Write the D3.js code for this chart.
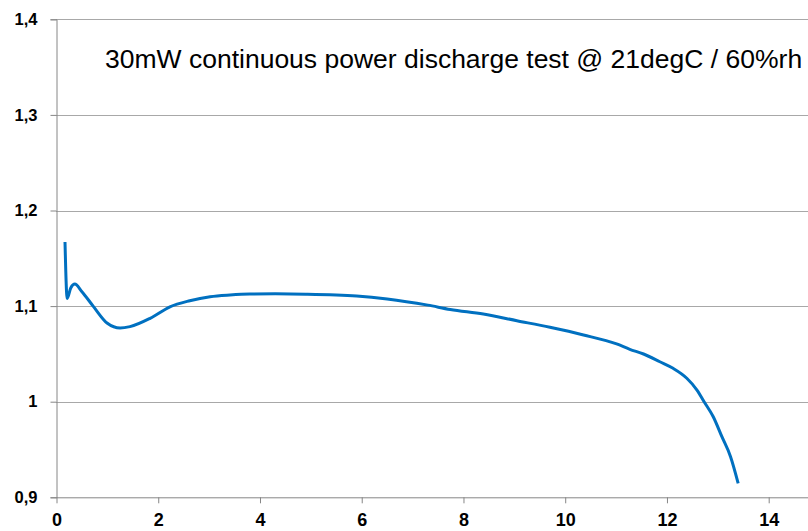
<!DOCTYPE html>
<html>
<head>
<meta charset="utf-8">
<script src="https://cdn.jsdelivr.net/npm/d3@7"></script>
<style>
  html, body { margin: 0; padding: 0; background: #fff; }
  svg { display: block; }
</style>
</head>
<body>
<svg id="chart" width="808" height="531"></svg>
<script>
//
// Data
//
const hours = [0.167, 0.21, 0.28, 0.36, 0.5, 0.72, 1.0, 1.25, 1.445, 1.84, 2.23, 2.62, 3.02, 3.41, 3.8,
  4.3, 4.9, 5.9, 6.5, 7.3, 7.74, 8.39, 9.05, 9.7, 10.36, 11.01, 11.27, 11.54, 11.86,
  12.12, 12.39, 12.59, 12.73, 12.91, 13.08, 13.25, 13.40];
const volts = [1.167, 1.108, 1.119, 1.123, 1.115, 1.100, 1.082, 1.077, 1.0785, 1.0872, 1.0993, 1.1056, 1.1098, 1.1116, 1.1126,
  1.1128, 1.1125, 1.1106, 1.1075, 1.101, 1.0965, 1.0917, 1.0847, 1.0778, 1.0698, 1.0604, 1.0548, 1.0499, 1.0418,
  1.0349, 1.0245, 1.0122, 1.000, 0.9843, 0.9634, 0.9425, 0.9146];
const xTicks = [0, 2, 4, 6, 8, 10, 12, 14];
const yTicks = [0.9, 1.0, 1.1, 1.2, 1.3, 1.4];
const title = '30mW continuous power discharge test @ 21degC / 60%rh';

//
// Layout
//
const svg = d3.select('#chart');
const plotLeft = 56.5, plotTop = 19.3, plotBottom = 497.3;
const axisColor = '#868686';
const labelFont = '"Liberation Sans", Arial, sans-serif';

const x = d3.scaleLinear().domain([0, 14]).range([plotLeft, 768.7]);
const y = d3.scaleLinear().domain([0.9, 1.4]).range([plotBottom, plotTop]);

const fmt = v => d3.format('.1~f')(v).replace('.', ',');

// grid lines
svg.append('g')
  .selectAll('line')
  .data(yTicks.filter(v => v > 0.9))
  .join('line')
    .attr('x1', plotLeft).attr('x2', 808)
    .attr('y1', d => Math.round(y(d)) + 0.5).attr('y2', d => Math.round(y(d)) + 0.5)
    .attr('stroke', '#505050')
    .attr('stroke-width', 1)
    .attr('stroke-dasharray', '1,1');

// y axis
const yAxis = svg.append('g')
  .attr('transform', `translate(${plotLeft},0)`)
  .call(d3.axisLeft(y).tickValues(yTicks).tickFormat(fmt).tickSize(6).tickPadding(13));
yAxis.select('.domain').attr('stroke', axisColor);
yAxis.selectAll('.tick line').attr('stroke', axisColor);
yAxis.selectAll('.tick text')
  .attr('fill', '#000')
  .attr('font-family', labelFont)
  .attr('font-weight', 'bold')
  .attr('font-size', 16.5);

// x axis
const xAxis = svg.append('g')
  .attr('transform', `translate(0,${plotBottom})`)
  .call(d3.axisBottom(x).tickValues(xTicks).tickFormat(d3.format('d')).tickSize(6).tickSizeOuter(0).tickPadding(10));
xAxis.select('.domain').attr('d', `M${plotLeft},0.5H808`).attr('stroke', axisColor);
xAxis.selectAll('.tick line').attr('stroke', axisColor);
xAxis.selectAll('.tick text')
  .attr('fill', '#000')
  .attr('font-family', labelFont)
  .attr('font-weight', 'bold')
  .attr('font-size', 18);

// discharge curve
const points = hours.map((h, i) => [h, volts[i]]);
const line = d3.line()
  .x(d => x(d[0]))
  .y(d => y(d[1]))
  .curve(d3.curveMonotoneX);

svg.append('path')
  .datum(points)
  .attr('fill', 'none')
  .attr('stroke', '#0070C0')
  .attr('stroke-width', 3)
  .attr('stroke-linejoin', 'round')
  .attr('d', line);

// title
svg.append('text')
  .attr('x', 105)
  .attr('y', 68)
  .attr('fill', '#000')
  .attr('font-family', labelFont)
  .attr('font-size', 26.5)
  .text(title);
</script>
</body>
</html>
